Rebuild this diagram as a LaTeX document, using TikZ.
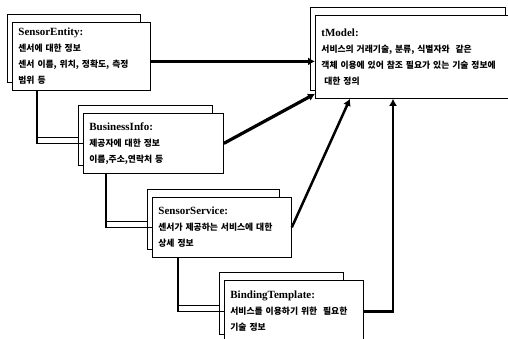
\documentclass[tikz,border=0pt]{standalone}
\usepackage{fontspec}
\setmainfont{Liberation Serif}
\newfontfamily\kr{Noto Sans CJK KR}
\usetikzlibrary{positioning,arrows.meta,backgrounds}
\newcommand{\cardtitle}[1]{{\rmfamily\bfseries\fontsize{11pt}{16pt}\selectfont #1}}

\begin{document}
\begin{tikzpicture}[
x=1pt,y=-1pt,
card/.style={
rectangle,draw,line width=0.8pt,fill=white,anchor=north west,
inner xsep=6pt,inner ysep=4pt,align=left,
font=\kr\bfseries\fontsize{8.8pt}{16pt}\selectfont
},
backcard/.style={draw,line width=0.7pt,fill=white},
arrow/.style={-{Latex[length=7pt,width=8pt]},line width=2.5pt},
tree/.style={line width=1.4pt},
treeshadow/.style={line width=0.6pt}
]
\useasboundingbox (0,0) rectangle (508,339);

% cards
\node[card,text width=126pt,minimum height=68pt] (ent) at (12,22)
{\cardtitle{SensorEntity:}\\센서에 대한 정보\\센서 이름, 위치, 정확도, 측정\\범위 등};
\node[card,text width=128pt,minimum height=60pt] (biz) at (83,113)
{\cardtitle{BusinessInfo:}\\제공자에 대한 정보\\이름,주소,연락처 등};
\node[card,text width=127pt,minimum height=60pt] (srv) at (152,197)
{\cardtitle{SensorService:}\\센서가 제공하는 서비스에 대한\\상세 정보};
\node[card,text width=127pt,minimum height=62pt] (bind) at (224,280)
{\cardtitle{BindingTemplate:}\\서비스를 이용하기 위한 \ 필요한\\기술 정보};
\node[card,text width=190pt,minimum height=83pt] (tm) at (315,15)
{\cardtitle{tModel:}\\서비스의 거래기술, 분류, 식별자와 \ 같은\\객체 이용에 있어 참조 필요가 있는 기술 정보에\\\ 대한 정의};

% copies behind the cards
\begin{scope}[on background layer]
\fill[white] (0,0) rectangle (508,339);
\foreach \n/\d in {ent/10,biz/11,srv/12,bind/20,tm/12}
\draw[backcard] ([xshift=-5pt,yshift=8pt]\n.north west) rectangle ([xshift=-\d pt,yshift=8pt]\n.south east);
\end{scope}

% links to tModel
\coordinate (e1) at ([yshift=-5pt]ent.east);
\draw[arrow,line width=3.5pt] (e1) -- (e1 -| tm.west);
\draw[arrow,line width=3.2pt] (biz.east) -- ([yshift=5pt]tm.south west);
\draw[arrow] (srv.east) -- ([xshift=35pt]tm.south west);
\draw[arrow] (bind.east) -| ([xshift=78pt]tm.south west);

% hierarchy
\coordinate (t1) at ([xshift=25pt]ent.south west);
\coordinate (t2) at ([xshift=23pt]biz.south west);
\coordinate (t3) at ([xshift=26pt]srv.south west);
\draw[tree] (t1) |- (biz.west);
\draw[tree] (t2) |- (srv.west);
\draw[tree] (t3) |- (bind.west);
\draw[treeshadow] ([yshift=6pt]t1 |- biz.west) -- ([xshift=-5pt,yshift=6pt]biz.west);
\draw[treeshadow] ([yshift=6pt]t2 |- srv.west) -- ([xshift=-5pt,yshift=6pt]srv.west);
\draw[treeshadow] ([yshift=6pt]t3 |- bind.west) -- ([xshift=-5pt,yshift=6pt]bind.west);

\end{tikzpicture}
\end{document}
